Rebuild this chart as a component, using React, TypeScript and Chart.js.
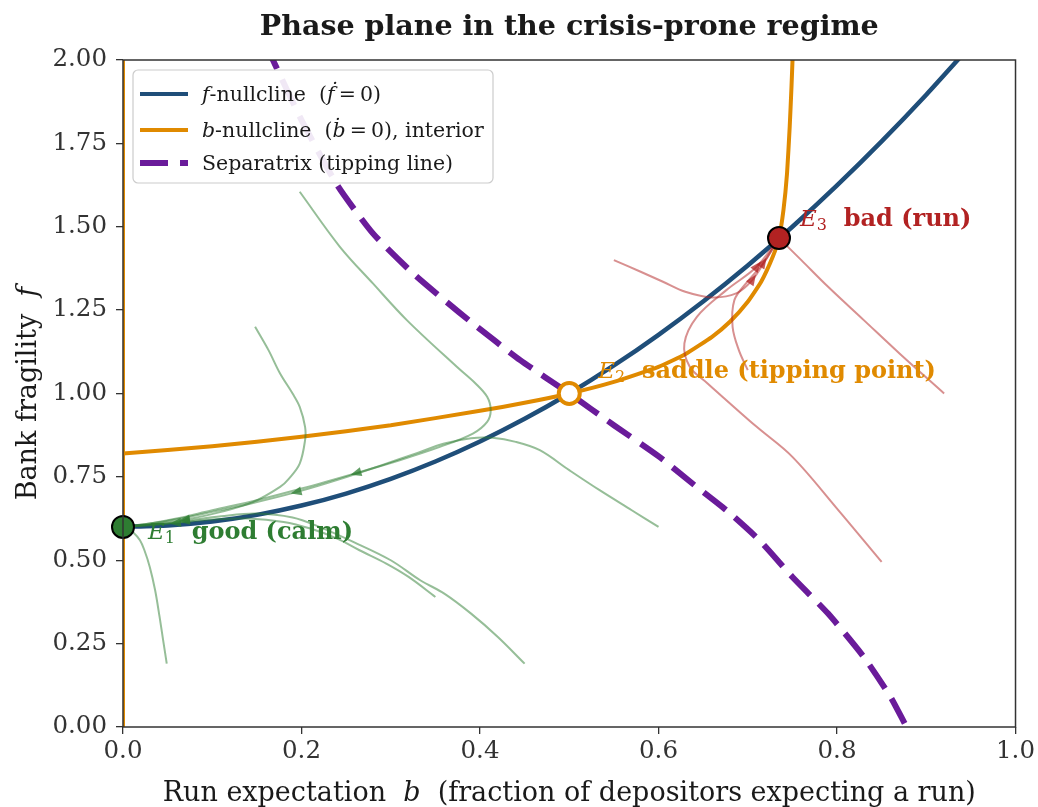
import React, { useEffect, useRef } from "react";
import { Chart, registerables } from "chart.js";

Chart.register(...registerables);

const SERIF = "'DejaVu Serif', serif";

// ---------- data ----------
const xTickValues = [0, 0.2, 0.4, 0.6, 0.8, 1.0];
const yTickValues = [0, 0.25, 0.5, 0.75, 1.0, 1.25, 1.5, 1.75, 2.0];

// f-nullcline (f-dot = 0)
const fNullB = [0, 0.05, 0.1, 0.15, 0.2, 0.25, 0.3, 0.35, 0.4, 0.45, 0.5, 0.55, 0.6, 0.65, 0.7, 0.75, 0.8, 0.85, 0.9, 0.95];
const fNullF = [0.6, 0.604, 0.616, 0.636, 0.664, 0.7, 0.744, 0.796, 0.856, 0.924, 1.0, 1.084, 1.176, 1.276, 1.384, 1.5, 1.624, 1.756, 1.896, 2.044];

// b-nullcline (b-dot = 0), interior branch
const bNullB = [0, 0.1, 0.2, 0.3, 0.4, 0.45, 0.5, 0.55, 0.6, 0.63, 0.66, 0.68, 0.7, 0.715, 0.728, 0.735, 0.74, 0.744, 0.747, 0.749, 0.751];
const bNullF = [0.82, 0.842, 0.87, 0.905, 0.948, 0.972, 1.0, 1.035, 1.08, 1.118, 1.17, 1.215, 1.275, 1.335, 1.41, 1.466, 1.55, 1.66, 1.8, 1.92, 2.06];

// boundary branch b = 0
const bZeroB = [0, 0];
const bZeroF = [0, 2.05];

// separatrix (tipping line)
const sepB = [0.16, 0.168, 0.2, 0.24, 0.28, 0.325, 0.36, 0.392, 0.445, 0.5, 0.55, 0.601, 0.638, 0.676, 0.713, 0.75, 0.79, 0.83, 0.86, 0.878, 0.885];
const sepF = [2.05, 2.0, 1.82, 1.625, 1.48, 1.36, 1.28, 1.21, 1.1, 1.0, 0.905, 0.81, 0.73, 0.65, 0.56, 0.45, 0.34, 0.21, 0.09, 0.0, -0.03];

// equilibria
const eqB = [0, 0.5, 0.735];
const eqF = [0.6, 1.0, 1.466];

// trajectories converging to E1 (good)
const greenA = [[0.148, 1.2], [0.163, 1.13], [0.176, 1.06], [0.19, 1.0], [0.198, 0.96], [0.204, 0.9], [0.204, 0.86], [0.198, 0.79], [0.186, 0.745], [0.176, 0.72], [0.146, 0.675], [0.11, 0.645], [0.07, 0.622], [0.04, 0.61], [0.015, 0.603], [0, 0.6]];
const greenB = [[0.198, 1.605], [0.243, 1.44], [0.28, 1.33], [0.318, 1.22], [0.374, 1.08], [0.395, 1.03], [0.408, 0.99], [0.412, 0.95], [0.408, 0.915], [0.392, 0.88], [0.355, 0.84], [0.31, 0.8], [0.262, 0.762], [0.2, 0.715], [0.15, 0.68], [0.1, 0.65], [0.06, 0.625], [0.03, 0.61], [0, 0.6]];
const greenC = [[0.6, 0.6], [0.57, 0.65], [0.534, 0.71], [0.5, 0.77], [0.467, 0.83], [0.44, 0.855], [0.414, 0.867], [0.39, 0.866], [0.36, 0.85], [0.33, 0.822], [0.29, 0.785], [0.245, 0.745], [0.195, 0.705], [0.14, 0.668], [0.1, 0.645], [0.06, 0.623], [0.03, 0.61], [0, 0.6]];
const greenD = [[0.35, 0.39], [0.32, 0.45], [0.295, 0.49], [0.265, 0.53], [0.24, 0.565], [0.21, 0.595], [0.18, 0.615], [0.14, 0.625], [0.1, 0.622], [0.06, 0.612], [0.03, 0.605], [0, 0.6]];
const greenE = [[0.45, 0.19], [0.42, 0.27], [0.39, 0.34], [0.36, 0.4], [0.333, 0.44], [0.3, 0.5], [0.258, 0.555], [0.22, 0.6], [0.19, 0.628], [0.15, 0.64], [0.11, 0.632], [0.07, 0.618], [0.035, 0.607], [0, 0.6]];
const greenF = [[0.049, 0.19], [0.045, 0.26], [0.041, 0.33], [0.036, 0.41], [0.03, 0.48], [0.024, 0.53], [0.019, 0.56], [0.011, 0.585], [0.005, 0.595], [0, 0.6]];
const greenTrajectories = [greenA, greenB, greenC, greenD, greenE, greenF];
const greenArrowAt = [12, 12, 12, 9, 11, -1];

// trajectories converging to E3 (bad)
const redA = [[0.55, 1.4], [0.58, 1.365], [0.605, 1.335], [0.63, 1.305], [0.66, 1.288], [0.687, 1.3], [0.705, 1.34], [0.72, 1.4], [0.735, 1.466]];
const redB = [[0.85, 0.495], [0.8, 0.655], [0.75, 0.81], [0.71, 0.9], [0.676, 0.98], [0.655, 1.03], [0.635, 1.08], [0.629, 1.15], [0.643, 1.23], [0.676, 1.31], [0.71, 1.38], [0.735, 1.466]];
const redC = [[0.92, 1.0], [0.87, 1.12], [0.83, 1.22], [0.79, 1.32], [0.76, 1.4], [0.735, 1.466]];
const redD = [[0.7, 1.07], [0.69, 1.13], [0.683, 1.2], [0.685, 1.28], [0.698, 1.33], [0.717, 1.39], [0.735, 1.466]];
const redTrajectories = [redA, redB, redC, redD];
const redArrowAt = [6, 10, -1, 5];

// ---------- styling ----------
const BLUE = "#1f4e79";
const ORANGE = "#e08a00";
const PURPLE = "#6a1b9a";
const GREEN = "#2e7d32";
const RED = "#b22222";
const GREEN_T = "rgba(46,125,50,0.5)";
const RED_T = "rgba(178,34,34,0.5)";
const TEXT = "#1a1a1a";

const toXY = (bs: number[], fs: number[]) => bs.map((b, i) => ({ x: b, y: fs[i] }));
const pairsToXY = (pts: number[][]) => pts.map((p) => ({ x: p[0], y: p[1] }));

type Run = { t: string; font: string; color: string; dy?: number };

function drawRuns(ctx: CanvasRenderingContext2D, runs: Run[], x: number, y: number, align: "left" | "center") {
  let total = 0;
  const widths = runs.map((r) => {
    ctx.font = r.font;
    const w = ctx.measureText(r.t).width;
    total += w;
    return w;
  });
  let cx = align === "center" ? x - total / 2 : x;
  ctx.textBaseline = "alphabetic";
  ctx.textAlign = "left";
  runs.forEach((r, i) => {
    ctx.font = r.font;
    ctx.fillStyle = r.color;
    ctx.fillText(r.t, cx, y + (r.dy || 0));
    cx += widths[i];
  });
}

const overlayPlugin = {
  id: "overlay",
  afterDatasetsDraw(chart: any) {
    const ctx: CanvasRenderingContext2D = chart.ctx;
    const xs = chart.scales.x;
    const ys = chart.scales.y;
    const arrow = (pts: number[][], idx: number, color: string) => {
      if (idx < 0 || idx >= pts.length - 1) return;
      const px = xs.getPixelForValue(pts[idx][0]);
      const py = ys.getPixelForValue(pts[idx][1]);
      const qx = xs.getPixelForValue(pts[idx + 1][0]);
      const qy = ys.getPixelForValue(pts[idx + 1][1]);
      let dx = qx - px, dy = qy - py;
      const len = Math.hypot(dx, dy) || 1;
      dx /= len; dy /= len;
      const L = 11, W = 4.5;
      ctx.save();
      ctx.fillStyle = color;
      ctx.beginPath();
      ctx.moveTo(px + dx * L * 0.6, py + dy * L * 0.6);
      ctx.lineTo(px - dx * L * 0.4 - dy * W, py - dy * L * 0.4 + dx * W);
      ctx.lineTo(px - dx * L * 0.4 + dy * W, py - dy * L * 0.4 - dx * W);
      ctx.closePath();
      ctx.fill();
      ctx.restore();
    };
    greenTrajectories.forEach((t, i) => arrow(t, greenArrowAt[i], "rgba(46,125,50,0.75)"));
    redTrajectories.forEach((t, i) => arrow(t, redArrowAt[i], "rgba(178,34,34,0.75)"));

    // equilibrium labels
    const labels = [
      { i: 0, dx: 25, dy: 12, sub: "1", text: "good (calm)", color: GREEN },
      { i: 1, dx: 29, dy: -16, sub: "2", text: "saddle (tipping point)", color: ORANGE },
      { i: 2, dx: 21, dy: -12, sub: "3", text: "bad (run)", color: RED },
    ];
    ctx.save();
    labels.forEach((l) => {
      const px = xs.getPixelForValue(eqB[l.i]) + l.dx;
      const py = ys.getPixelForValue(eqF[l.i]) + l.dy;
      drawRuns(
        ctx,
        [
          { t: "E", font: `italic 23px ${SERIF}`, color: l.color },
          { t: l.sub, font: `16px ${SERIF}`, color: l.color, dy: 4 },
          { t: "  " + l.text, font: `bold 24px ${SERIF}`, color: l.color },
        ],
        px,
        py,
        "left"
      );
    });
    ctx.restore();
  },
  afterDraw(chart: any) {
    const ctx: CanvasRenderingContext2D = chart.ctx;
    const a = chart.chartArea;
    ctx.save();
    // frame
    ctx.strokeStyle = "#333333";
    ctx.lineWidth = 1.5;
    ctx.strokeRect(a.left, a.top, a.right - a.left, a.bottom - a.top);

    // title
    ctx.font = `bold 28.5px ${SERIF}`;
    ctx.fillStyle = TEXT;
    ctx.textAlign = "center";
    ctx.textBaseline = "alphabetic";
    ctx.fillText("Phase plane in the crisis-prone regime", (a.left + a.right) / 2, 35);

    // x title
    const cx = (a.left + a.right) / 2;
    drawRuns(
      ctx,
      [
        { t: "Run expectation  ", font: `27px ${SERIF}`, color: TEXT },
        { t: "b", font: `italic 27px ${SERIF}`, color: TEXT },
        { t: "  (fraction of depositors expecting a run)", font: `27px ${SERIF}`, color: TEXT },
      ],
      cx,
      801,
      "center"
    );
    // y title
    ctx.save();
    ctx.translate(36, (a.top + a.bottom) / 2);
    ctx.rotate(-Math.PI / 2);
    drawRuns(
      ctx,
      [
        { t: "Bank fragility  ", font: `27px ${SERIF}`, color: TEXT },
        { t: "f", font: `italic 27px ${SERIF}`, color: TEXT },
      ],
      0,
      0,
      "center"
    );
    ctx.restore();

    // legend
    const lx = 133, ly = 70, lw = 360, lh = 113;
    ctx.beginPath();
    const r = 5;
    ctx.moveTo(lx + r, ly);
    ctx.arcTo(lx + lw, ly, lx + lw, ly + lh, r);
    ctx.arcTo(lx + lw, ly + lh, lx, ly + lh, r);
    ctx.arcTo(lx, ly + lh, lx, ly, r);
    ctx.arcTo(lx, ly, lx + lw, ly, r);
    ctx.closePath();
    ctx.fillStyle = "rgba(255,255,255,0.9)";
    ctx.fill();
    ctx.strokeStyle = "#cccccc";
    ctx.lineWidth = 1.2;
    ctx.stroke();

    const LF = 20.5;
    const rows = [
      {
        y: 94, color: BLUE, dash: [] as number[], width: 4,
        runs: [
          { t: "f", font: `italic ${LF}px ${SERIF}`, color: TEXT },
          { t: "-nullcline  (", font: `${LF}px ${SERIF}`, color: TEXT },
          { t: "\u1E1F", font: `italic ${LF}px ${SERIF}`, color: TEXT },
          { t: "\u2009=\u20090)", font: `${LF}px ${SERIF}`, color: TEXT },
        ],
      },
      {
        y: 130, color: ORANGE, dash: [] as number[], width: 4,
        runs: [
          { t: "b", font: `italic ${LF}px ${SERIF}`, color: TEXT },
          { t: "-nullcline  (", font: `${LF}px ${SERIF}`, color: TEXT },
          { t: "\u1E03", font: `italic ${LF}px ${SERIF}`, color: TEXT },
          { t: "\u2009=\u20090), interior", font: `${LF}px ${SERIF}`, color: TEXT },
        ],
      },
      {
        y: 163, color: PURPLE, dash: [28, 12], width: 6,
        runs: [{ t: "Separatrix (tipping line)", font: `${LF}px ${SERIF}`, color: TEXT }],
      },
    ];
    rows.forEach((row) => {
      ctx.save();
      ctx.strokeStyle = row.color;
      ctx.lineWidth = row.width;
      ctx.setLineDash(row.dash);
      ctx.beginPath();
      ctx.moveTo(140, row.y);
      ctx.lineTo(188, row.y);
      ctx.stroke();
      ctx.restore();
      drawRuns(ctx, row.runs, 202, row.y + 7, "left");
    });
    ctx.restore();
  },
};

export default function App() {
  const canvasRef = useRef<HTMLCanvasElement | null>(null);

  useEffect(() => {
    document.body.style.margin = "0";
    const canvas = canvasRef.current;
    if (!canvas) return;

    const lineDs = (label: string, data: any[], color: string, width: number, order: number, extra: any = {}) => ({
      label,
      data,
      showLine: true,
      borderColor: color,
      backgroundColor: color,
      borderWidth: width,
      pointRadius: 0,
      pointHoverRadius: 0,
      order,
      ...extra,
    });

    const datasets: any[] = [
      lineDs("b=0", toXY(bZeroB, bZeroF), ORANGE, 4, 10),
      lineDs("f-nullcline", toXY(fNullB, fNullF), BLUE, 4.5, 9, { tension: 0.2 }),
      lineDs("b-nullcline", toXY(bNullB, bNullF), ORANGE, 4, 8, { tension: 0.15 }),
      lineDs("separatrix", toXY(sepB, sepF), PURPLE, 6, 7, { borderDash: [28, 12], tension: 0.2 }),
      ...greenTrajectories.map((t, i) => lineDs("g" + i, pairsToXY(t), GREEN_T, 2, 5, { tension: 0.35 })),
      ...redTrajectories.map((t, i) => lineDs("r" + i, pairsToXY(t), RED_T, 2, 5, { tension: 0.35 })),
      {
        label: "E1",
        data: [{ x: eqB[0], y: eqF[0] }],
        pointRadius: 11,
        pointBackgroundColor: GREEN,
        pointBorderColor: "#000000",
        pointBorderWidth: 2,
        showLine: false,
        clip: false,
        order: 1,
      },
      {
        label: "E2",
        data: [{ x: eqB[1], y: eqF[1] }],
        pointRadius: 10.5,
        pointBackgroundColor: "#ffffff",
        pointBorderColor: ORANGE,
        pointBorderWidth: 4,
        showLine: false,
        clip: false,
        order: 1,
      },
      {
        label: "E3",
        data: [{ x: eqB[2], y: eqF[2] }],
        pointRadius: 11,
        pointBackgroundColor: RED,
        pointBorderColor: "#000000",
        pointBorderWidth: 2,
        showLine: false,
        clip: false,
        order: 1,
      },
    ];

    const chart = new Chart(canvas, {
      type: "scatter",
      data: { datasets },
      options: {
        responsive: false,
        animation: false,
        devicePixelRatio: 1,
        layout: { padding: { top: 60, right: 22, left: 0, bottom: 0 } },
        plugins: { legend: { display: false }, tooltip: { enabled: false }, title: { display: false } },
        events: [],
        scales: {
          x: {
            type: "linear",
            min: 0,
            max: 1,
            afterBuildTicks: (s: any) => { s.ticks = xTickValues.map((v) => ({ value: v })); },
            afterFit: (s: any) => { s.height = 80; },
            ticks: {
              font: { family: SERIF, size: 24.5 },
              color: "#333333",
              padding: 3,
              maxRotation: 0,
              callback: (v: any) => Number(v).toFixed(1),
            },
            grid: { display: true, drawOnChartArea: false, drawTicks: true, tickLength: 7, color: "#333333", lineWidth: 1.3 },
            border: { display: false },
          },
          y: {
            type: "linear",
            min: 0,
            max: 2,
            afterBuildTicks: (s: any) => { s.ticks = yTickValues.map((v) => ({ value: v })); },
            afterFit: (s: any) => { s.width = 123; },
            ticks: {
              font: { family: SERIF, size: 24.5 },
              color: "#333333",
              padding: 9,
              callback: (v: any) => Number(v).toFixed(2),
            },
            grid: { display: true, drawOnChartArea: false, drawTicks: true, tickLength: 7, color: "#333333", lineWidth: 1.3 },
            border: { display: false },
          },
        },
      },
      plugins: [overlayPlugin],
    });

    return () => chart.destroy();
  }, []);

  return (
    <div style={{ position: "absolute", left: 0, top: 0, width: 1038, height: 807, background: "#ffffff" }}>
      <canvas ref={canvasRef} width={1038} height={807} style={{ display: "block" }} />
    </div>
  );
}
